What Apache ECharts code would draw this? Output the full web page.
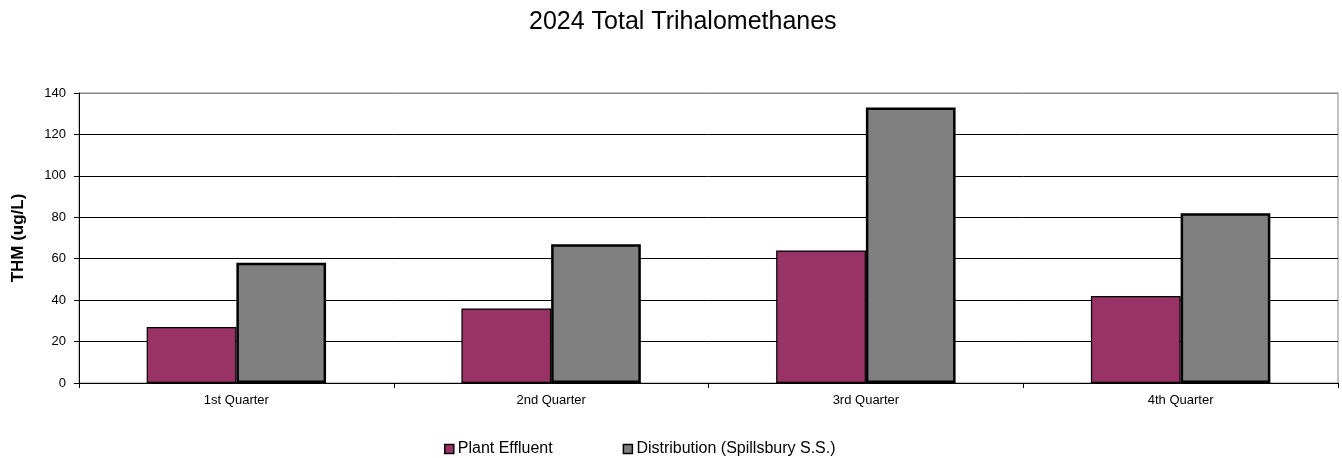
<!DOCTYPE html>
<html>
<head>
<meta charset="utf-8">
<script src="https://cdn.jsdelivr.net/npm/echarts@6/dist/echarts.min.js"></script>
<style>
  html, body { margin: 0; padding: 0; background: #fff; }
  #chart { width: 1342px; height: 458px; }
</style>
</head>
<body>
<div id="chart"></div>
<script>
// Quarterly total trihalomethane results, ug/L
const quarters = ['1st Quarter', '2nd Quarter', '3rd Quarter', '4th Quarter'];
const plantEffluent = [27, 36, 64, 42];
const distribution = [58, 67, 133, 82];
const yTicks = { min: 0, max: 140, interval: 20 };

const FONT = '"Liberation Sans", Arial, sans-serif';
const chart = echarts.init(document.getElementById('chart'), null, { renderer: 'canvas' });

// gridlines are black; the top one doubles as the grey plot-area frame
const gridColors = ['#000', '#000', '#000', '#000', '#000', '#000', '#000', '#888'];

chart.setOption({
  animation: false,
  backgroundColor: '#ffffff',
  title: {
    text: '2024 Total Trihalomethanes',
    left: 524,
    top: 5,
    textStyle: { fontFamily: FONT, fontSize: 25, fontWeight: 'normal', color: '#000' }
  },
  legend: {
    top: 436,
    left: 439,
    itemWidth: 9,
    itemHeight: 9,
    itemGap: 70,
    icon: 'rect',
    textStyle: { fontFamily: FONT, fontSize: 16, color: '#000', padding: [0, 0, 0, -1] },
    data: [
      { name: 'Plant Effluent', itemStyle: { borderColor: '#000', borderWidth: 1.5 } },
      { name: 'Distribution (Spillsbury S.S.)', itemStyle: { borderColor: '#000', borderWidth: 1.5 } }
    ]
  },
  grid: {
    left: 79, right: 4, top: 93, bottom: 75,
    outerBoundsMode: 'none',
    containLabel: false,
    show: true, borderColor: '#888', borderWidth: 1
  },
  xAxis: {
    type: 'category',
    data: quarters,
    axisLine: { lineStyle: { color: '#000', width: 1 } },
    axisTick: { show: true, alignWithLabel: false, length: 5, lineStyle: { color: '#000' } },
    axisLabel: { fontFamily: FONT, fontSize: 13, color: '#000', margin: 11 }
  },
  yAxis: {
    type: 'value',
    min: yTicks.min,
    max: yTicks.max,
    interval: yTicks.interval,
    name: 'THM (ug/L)',
    nameLocation: 'middle',
    nameGap: 52,
    nameTextStyle: { fontFamily: FONT, fontSize: 17, fontWeight: 'bold', color: '#000' },
    axisLine: { show: true, lineStyle: { color: '#000', width: 1 } },
    axisTick: { show: true, length: 5, lineStyle: { color: '#000' } },
    axisLabel: { fontFamily: FONT, fontSize: 13, color: '#000', margin: 13 },
    splitLine: { show: true, lineStyle: { color: gridColors, width: 1 } }
  },
  series: [
    {
      name: 'Plant Effluent',
      type: 'bar',
      data: plantEffluent,
      barGap: '0%',
      barCategoryGap: '43%',
      itemStyle: { color: '#993366', borderColor: '#000', borderWidth: 1.2 }
    },
    {
      name: 'Distribution (Spillsbury S.S.)',
      type: 'bar',
      data: distribution,
      itemStyle: { color: '#808080', borderColor: '#000', borderWidth: 2.5 }
    }
  ]
});
</script>
</body>
</html>
